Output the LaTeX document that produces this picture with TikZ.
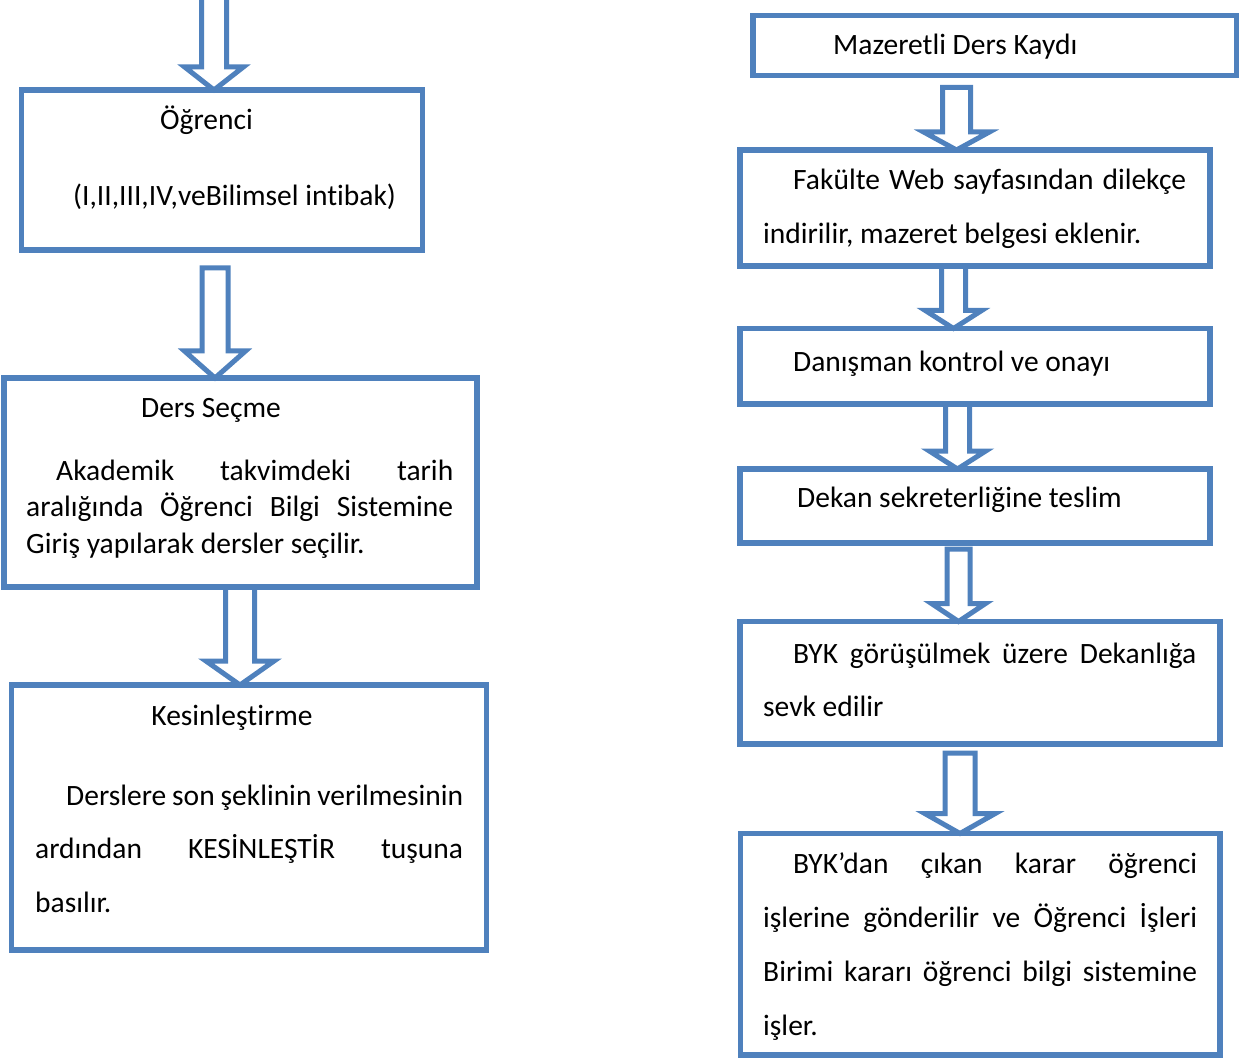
\documentclass[tikz,border=0pt]{standalone}
\usepackage{fontspec}
\setmainfont{Carlito}[Ligatures=NoCommon]
\usetikzlibrary{calc,backgrounds}
\definecolor{boxblue}{HTML}{4F81BD}

% hollow block arrow: [shaft half width]{from}{to}{x}{gap}{head length}
\newcommand\flowarrow[6][13]{%
  \draw[blockarrow] let \p1=(#2), \p2=(#3), \p3=(#4,0) in
    (\x3-#1,\y1-#5) -- (\x3+#1,\y1-#5) -- (\x3+#1,\y2+#6) -- (\x3+2.35*#1,\y2+#6)
    -- (\x3,\y2) -- (\x3-2.35*#1,\y2+#6) -- (\x3-#1,\y2+#6) -- cycle;}

\tikzset{
  box/.style={draw=boxblue, line width=5.5pt, inner sep=0pt, outer sep=0pt, anchor=north west},
  blockarrow/.style={draw=boxblue, line width=5pt, fill=white, line join=miter},
  title/.style={anchor=base, inner sep=0pt},
  oneline/.style={anchor=base west, inner sep=0pt},
  para/.style 2 args={anchor=base west, inner sep=0pt, align=justify, text width=#1,
    font=\fontsize{29.5}{#2}\selectfont},
}

\begin{document}
\begin{tikzpicture}[x=1pt, y=1pt, font=\fontsize{29.5}{35}\selectfont]
  \useasboundingbox (0,0) rectangle (1248,-1059);

  % left column
  \coordinate (start) at (214,5);
  \node[box, minimum width=401pt, minimum height=160pt] (b1) at (21.5,-90) {};
  \node[title] (b1t) at (206.5,-130) {Öğrenci};
  \node[oneline] (b1x) at (73,-206) {(I,II,III,IV,veBilimsel intibak)};

  \node[box, minimum width=473pt, minimum height=209pt] (b2) at (4,-378) {};
  \node[title] (b2t) at (211,-417) {Ders Seçme};
  \node[para={427pt}{36.5}] (b2x) at (26,-480)
    {\hspace*{30pt}Akademik takvimdeki tarih\linebreak aralığında Öğrenci Bilgi Sistemine\linebreak Giriş yapılarak dersler seçilir.};

  \node[box, minimum width=475pt, minimum height=265pt] (b3) at (11.5,-685) {};
  \node[title] (b3t) at (232,-725) {Kesinleştirme};
  \node[para={428pt}{53.5}] (b3x) at (35,-805)
    {\hspace*{31pt}Derslere son şeklinin verilmesinin\linebreak ardından KESİNLEŞTİR tuşuna\linebreak basılır.};

  % right column
  \node[box, minimum width=483.5pt, minimum height=60pt] (r1) at (753,-15.5) {};
  \node[oneline] (r1x) at (833,-55) {Mazeretli Ders Kaydı};

  \node[box, minimum width=470pt, minimum height=116pt] (r2) at (740,-150) {};
  \node[para={423pt}{54}] (r2x) at (763,-190)
    {\hspace*{30pt}Fakülte Web sayfasından dilekçe\linebreak indirilir, mazeret belgesi eklenir.};

  \node[box, minimum width=470pt, minimum height=75.5pt] (r3) at (740,-328.5) {};
  \node[oneline] (r3x) at (793,-371) {Danışman kontrol ve onayı};

  \node[box, minimum width=470pt, minimum height=74pt] (r4) at (740,-469) {};
  \node[oneline] (r4x) at (797,-507) {Dekan sekreterliğine teslim};

  \node[box, minimum width=480pt, minimum height=122.5pt] (r5) at (740,-621.5) {};
  \node[para={433pt}{53}] (r5x) at (763,-663)
    {\hspace*{30pt}BYK görüşülmek üzere Dekanlığa\linebreak sevk edilir};

  \node[box, minimum width=479.5pt, minimum height=221.5pt] (r6) at (740.5,-833.5) {};
  \node[para={434pt}{54}] (r6x) at (763,-873)
    {\hspace*{30pt}BYK’dan çıkan karar öğrenci\linebreak işlerine gönderilir ve Öğrenci İşleri\linebreak Birimi kararı öğrenci bilgi sistemine\linebreak işler.};

  % arrows
  \begin{scope}[on background layer]
    \flowarrow[12.5]{start}{b1.north}{214}{0}{23}
    \flowarrow[13]{b1.south}{b2.north}{215}{18}{27}
    \flowarrow[14.5]{b2.south}{b3.north}{240}{0}{24}
    \flowarrow[14]{r1.south}{r2.north}{956.5}{12}{18}
    \flowarrow[12]{r2.south}{r3.north}{953.5}{0}{18}
    \flowarrow[12]{r3.south}{r4.north}{957.5}{0}{18}
    \flowarrow[11.5]{r4.south}{r5.north}{958.5}{6}{18}
    \flowarrow[15]{r5.south}{r6.north}{960}{9}{20}
  \end{scope}
\end{tikzpicture}
\end{document}
